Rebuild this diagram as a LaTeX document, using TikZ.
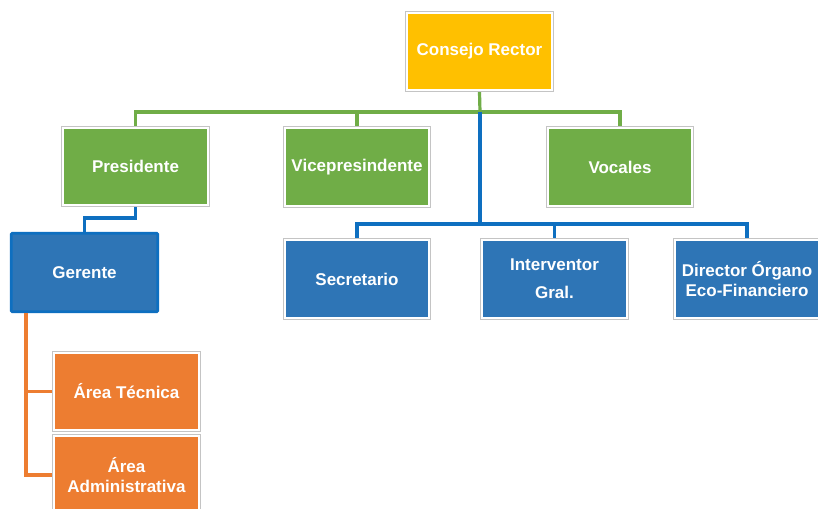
\documentclass[tikz,border=0pt]{standalone}
\usepackage{fontspec}
\setmainfont{Liberation Sans}
\definecolor{cyellow}{HTML}{FFC000}
\definecolor{cgreen}{HTML}{70AD47}
\definecolor{cblue}{HTML}{2E75B6}
\definecolor{cbline}{HTML}{0E6FC0}
\definecolor{corange}{HTML}{ED7D31}
\definecolor{cgray}{HTML}{C4C4C4}
\tikzset{
  box/.style={preaction={draw=cgray,line width=3.6pt},draw=white,line width=2.4pt,
    minimum width=144.5pt,minimum height=77.5pt,inner sep=2pt,outer sep=1.8pt,
    text=white,font=\fontsize{17}{20.5}\selectfont\bfseries,align=center},
  gerbox/.style={draw=cbline,line width=2.6pt,fill=cblue,rounded corners=1pt,
    minimum width=146.5pt,minimum height=78.5pt,outer sep=1.3pt,
    text=white,font=\fontsize{17}{20.5}\selectfont\bfseries,align=center},
  gline/.style={cgreen,line width=3.2pt},
  bline/.style={cbline,line width=3.2pt},
  oline/.style={corange,line width=3.2pt},
}
\begin{document}
\begin{tikzpicture}[x=1pt,y=-1pt]
\clip (0,0) rectangle (818,508);
\fill[white] (0,0) rectangle (818,508);
% nodes
\node[box,fill=cyellow] (cr) at (479.5,51.5) {Consejo Rector};
\node[box,fill=cgreen] (pres) at (135.5,166.5) {Presidente};
\node[box,fill=cgreen] (vice) at (357,167) {Vicepresindente};
\node[box,fill=cgreen] (voc) at (620,167) {Vocales};
\node[gerbox] (ger) at (84.5,272.5) {Gerente};
\node[box,fill=cblue] (sec) at (357,279) {Secretario};
\node[box,fill=cblue,font=\fontsize{17}{28}\selectfont\bfseries] (int) at (554.5,279) {Interventor\\Gral.};
\node[box,fill=cblue] (dir) at (747,279) {Director Órgano\\Eco-Financiero};
\node[box,fill=corange] (at) at (126.5,391.5) {Área Técnica};
\node[box,fill=corange] (aa) at (126.5,475) {Área\\Administrativa};
% junctions
\coordinate (gj) at (480,112);
\coordinate (bj) at (480,224);
\coordinate (ot) at (26,313);
% green connectors
\draw[gline] (cr.south) -- (gj);
\draw[gline] (gj) -| (pres.north);
\draw[gline] (gj) -| (vice.north);
\draw[gline] (gj) -| (voc.north);
% blue connectors
\draw[bline] (gj) -- (bj);
\draw[bline] (bj) -| (sec.north);
\draw[bline] (bj) -| (int.north);
\draw[bline] (bj) -| (dir.north);
\draw[bline] (pres.south) -- ++(0,11) -| (ger.north);
% orange connectors
\draw[oline] (ot) |- (at.west);
\draw[oline] (ot) |- (aa.west);
\end{tikzpicture}
\end{document}
